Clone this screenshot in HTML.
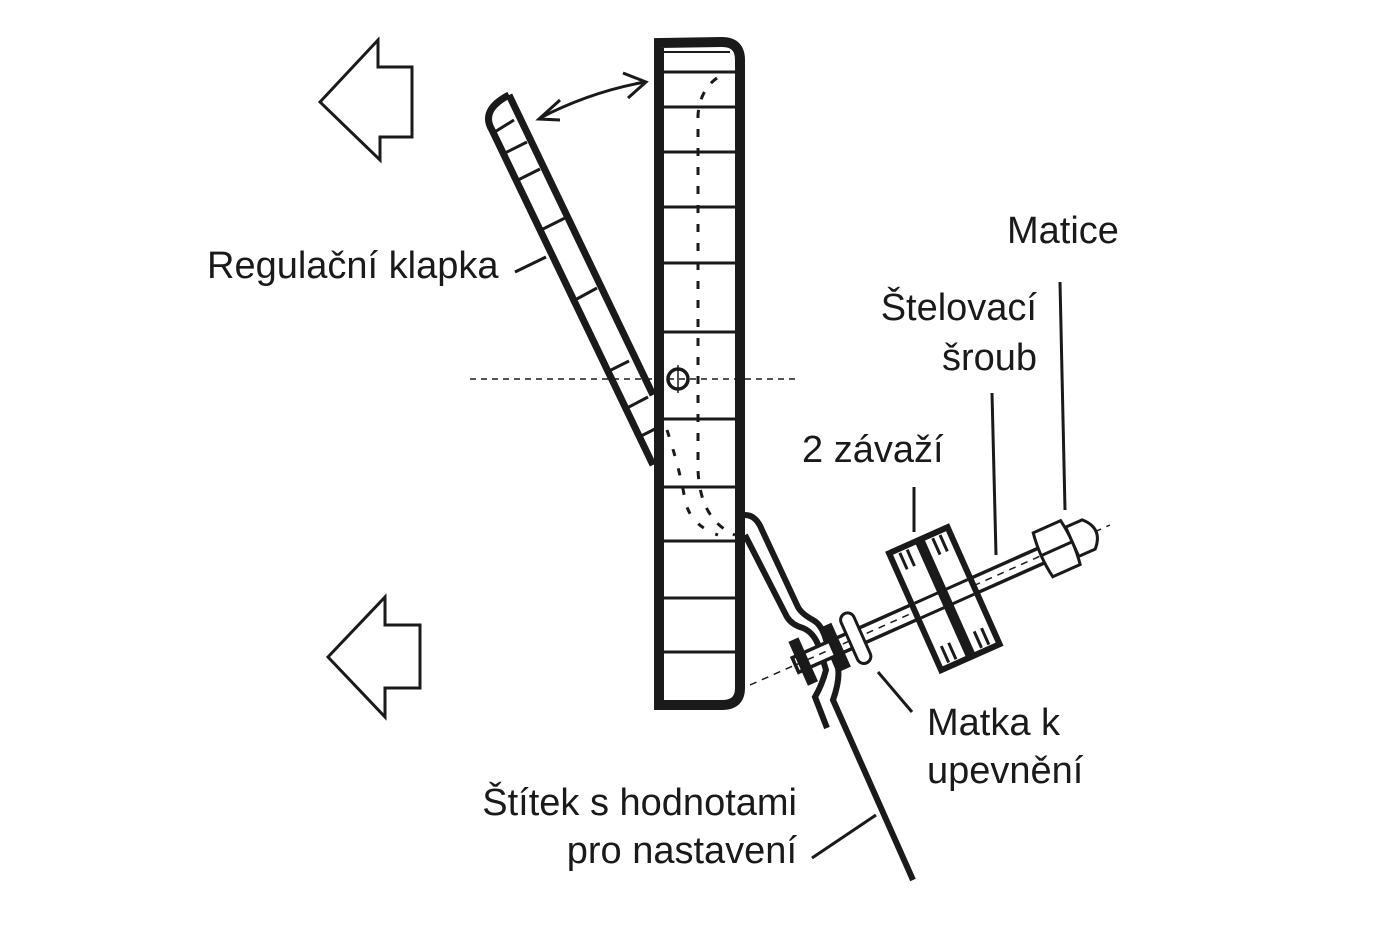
<!DOCTYPE html>
<html><head><meta charset="utf-8"><style>
html,body{margin:0;padding:0;background:#fff}
svg{display:block}
text{font-family:"Liberation Sans",sans-serif;font-size:38px;fill:#1a1a1a}
</style></head><body>
<svg width="1398" height="932" viewBox="0 0 1398 932" xmlns="http://www.w3.org/2000/svg">
<g fill="none" stroke="#1a1a1a" stroke-linecap="butt" stroke-linejoin="miter">
<path d="M320,102 L378,40 L378,67 L412,67 L412,137 L380,137 L380,160 Z" stroke-width="3"/>
<path d="M328,657 L385,597 L385,625 L420,625 L420,688 L385,688 L385,717 Z" stroke-width="3"/>
<path d="M659,705 L659,43 L722,42 Q740,42 740,60 L740,688 Q740,705 722,705 Z" stroke-width="10"/>
<g stroke-width="3">
<line x1="663" y1="52" x2="730" y2="52" stroke-width="2"/>
<line x1="663" y1="72" x2="736" y2="72"/><line x1="663" y1="107" x2="736" y2="107"/>
<line x1="663" y1="152" x2="736" y2="152"/><line x1="663" y1="207" x2="736" y2="207"/>
<line x1="663" y1="263" x2="736" y2="263"/><line x1="663" y1="332" x2="736" y2="332"/>
<line x1="663" y1="419" x2="736" y2="419"/><line x1="663" y1="487" x2="736" y2="487"/>
<line x1="663" y1="541" x2="736" y2="541"/><line x1="663" y1="598" x2="736" y2="598"/>
<line x1="663" y1="652" x2="736" y2="652"/>
</g>
<path d="M717,78 Q700,90 698,115 L698,470 Q700,520 735,535" stroke-width="3" stroke-dasharray="8,11"/>
<path d="M667,430 Q680,470 685,500 Q690,525 718,535" stroke-width="3" stroke-dasharray="7,13"/>
<path d="M509,95 L653,395 M653,465 L492,130 Q480,110 509,95" stroke-width="7"/>
<g stroke-width="3">
<line x1="493" y1="133" x2="514" y2="120"/><line x1="503" y1="154" x2="527" y2="142"/>
<line x1="516" y1="181" x2="540" y2="169"/><line x1="541" y1="230" x2="565" y2="218"/>
<line x1="575" y1="300" x2="597" y2="288"/><line x1="609" y1="371" x2="629" y2="361"/>
<line x1="627" y1="408" x2="648" y2="397"/><line x1="641" y1="436" x2="655" y2="429"/>
</g>
<path d="M540,118 Q590,92 645,82" stroke-width="3"/>
<path d="M560,100 L539,119 L560,120" stroke-width="3"/>
<path d="M623,73 L646,82 L628,98" stroke-width="3"/>
<line x1="470" y1="379" x2="795" y2="379" stroke-width="1.5" stroke-dasharray="6,5"/>
<circle cx="678" cy="379" r="10" stroke-width="3.5"/>
<line x1="678" y1="365" x2="678" y2="393" stroke-width="1.5"/>
<path d="M745,515 Q756,515 762,530 L797,605 Q800,613 813,620 Q822,625 826,640 L838,668 Q840,680 833,700 L913,880" stroke-width="6"/>
<path d="M745,535 L787,617 Q792,625 803,628 Q815,633 820,650 L826,670 Q822,685 815,697 L827,728" stroke-width="6"/>
<line x1="750" y1="685" x2="1110" y2="525" stroke-width="1.5" stroke-dasharray="7,6"/>
<g transform="translate(800,663) rotate(-24)">
<rect x="-5" y="-8" width="290" height="16" stroke-width="3.5" fill="#fff"/>
<line x1="-5" y1="0" x2="285" y2="0" stroke-width="1.5" stroke-dasharray="7,6"/>
<rect x="-2" y="-24" width="11" height="48" fill="#1a1a1a" stroke="none"/>
<rect x="34" y="-24" width="11" height="48" fill="#1a1a1a" stroke="none"/>
<rect x="54" y="-27" width="14" height="54" rx="7" stroke-width="3" fill="#fff"/>
<rect x="126" y="-64" width="64" height="128" stroke-width="6" fill="#fff"/>
<rect x="154" y="-64" width="10" height="128" fill="#1a1a1a" stroke="none"/>
<g stroke-width="3"><line x1="136" y1="-60" x2="136" y2="-42"/><line x1="144" y1="-60" x2="144" y2="-42"/>
<line x1="136" y1="42" x2="136" y2="60"/><line x1="144" y1="42" x2="144" y2="60"/>
<line x1="172" y1="-60" x2="172" y2="-42"/><line x1="180" y1="-60" x2="180" y2="-42"/>
<line x1="172" y1="42" x2="172" y2="60"/><line x1="180" y1="42" x2="180" y2="60"/>
<line x1="129" y1="-8" x2="187" y2="-8"/><line x1="129" y1="8" x2="187" y2="8"/></g>
<path d="M266,-24 Q262,0 266,24 L296,24 Q300,0 296,-24 Z M264,0 L298,0" stroke-width="3" fill="#fff"/>
<path d="M298,-16 L316,-16 Q332,0 316,16 L298,16 Z" stroke-width="3" fill="#fff"/>
</g>
<g stroke-width="3">
<line x1="1060" y1="282" x2="1065" y2="510"/>
<line x1="992" y1="393" x2="996" y2="555"/>
<line x1="914" y1="487" x2="914" y2="532"/>
<line x1="515" y1="272" x2="546" y2="257"/>
<line x1="878" y1="672" x2="912" y2="712"/>
<line x1="812" y1="858" x2="876" y2="815"/>
</g>
</g>
<text x="1007" y="243">Matice</text>
<text x="1037" y="320" text-anchor="end">Štelovací</text>
<text x="1037" y="370" text-anchor="end">šroub</text>
<text x="802" y="462">2 závaží</text>
<text x="207" y="278">Regulační klapka</text>
<text x="927" y="735">Matka k</text>
<text x="927" y="783">upevnění</text>
<text x="797" y="815" text-anchor="end">Štítek s hodnotami</text>
<text x="797" y="863" text-anchor="end">pro nastavení</text>
</svg>
</body></html>
